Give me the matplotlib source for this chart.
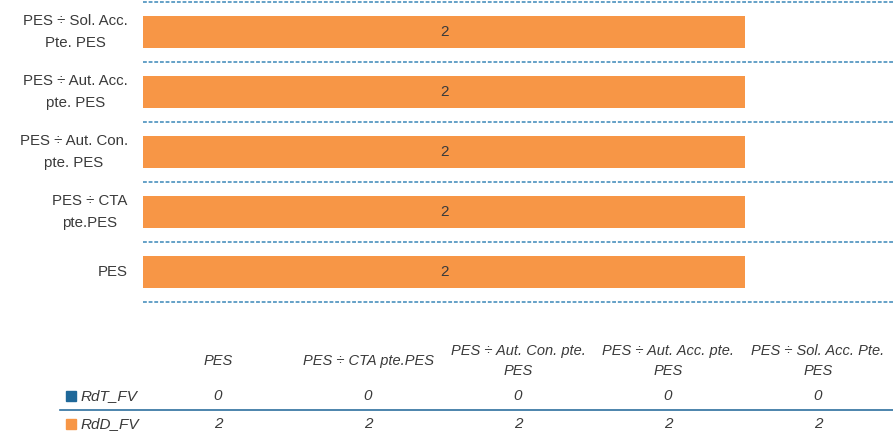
import matplotlib.pyplot as plt

# Data
categories = ["PES", "PES ÷ CTA\npte.PES", "PES ÷ Aut. Con.\npte. PES",
              "PES ÷ Aut. Acc.\npte. PES", "PES ÷ Sol. Acc.\nPte. PES"]
table_headers = ["PES", "PES ÷ CTA pte.PES", "PES ÷ Aut. Con. pte.\nPES",
                 "PES ÷ Aut. Acc. pte.\nPES", "PES ÷ Sol. Acc. Pte.\nPES"]
rdt_fv = [0, 0, 0, 0, 0]
rdd_fv = [2, 2, 2, 2, 2]
series_names = ["RdT_FV", "RdD_FV"]

blue = "#1f6899"
orange = "#f79646"
text_col = "#3a3a3a"

plt.rcParams['font.family'] = ['Liberation Sans', 'DejaVu Sans']

W, H = 893, 433
fig = plt.figure(figsize=(W / 100, H / 100), dpi=100)

left = 143 / W
ax = fig.add_axes([left, 1 - 302 / H, 1 - left, 300 / H])

ypos = range(len(categories))
ax.barh(ypos, rdt_fv, height=0.52, color=blue)
bars = ax.barh(ypos, rdd_fv, left=rdt_fv, height=0.52, color=orange)
for rect, v, l in zip(bars, rdd_fv, rdt_fv):
    ax.text(l + v / 2, rect.get_y() + rect.get_height() / 2, str(v),
            ha='center', va='center', fontsize=11, color=text_col)

ax.set_xlim(0, 2.49)
ax.set_ylim(-0.5, len(categories) - 0.5)
for b in [i - 0.5 for i in range(len(categories) + 1)]:
    ax.axhline(b, color="#3b87b8", linestyle=(0, (2.5, 1.2)), linewidth=1.1,
               clip_on=False)
for s in ax.spines.values():
    s.set_visible(False)
ax.set_xticks([])
ax.set_yticks(list(ypos))
ax.set_yticklabels(categories, fontsize=10.8, color=text_col,
                   multialignment='center', linespacing=1.7, va='center')
ax.tick_params(axis='y', length=0, pad=11)

# Data table below the chart
col_w = (1 - left) / len(table_headers)
for i, h in enumerate(table_headers):
    x = left + col_w * (i + 0.5)
    fig.text(x, 1 - 361 / H, h, ha='center', va='center', fontsize=10.5,
             style='italic', color=text_col, multialignment='center',
             linespacing=1.5)
    fig.text(x, 1 - 396 / H, str(rdt_fv[i]), ha='center', va='center',
             fontsize=11, style='italic', color=text_col)
    fig.text(x, 1 - 424 / H, str(rdd_fv[i]), ha='center', va='center',
             fontsize=11, style='italic', color=text_col)

for name, col, yy in zip(series_names, [blue, orange], [396, 424]):
    fig.patches.append(plt.Rectangle((66 / W, 1 - (yy + 5) / H), 10 / W, 10 / H,
                                     transform=fig.transFigure, color=col))
    fig.text(81 / W, 1 - yy / H, name, ha='left', va='center', fontsize=11,
             style='italic', color=text_col)

fig.add_artist(plt.Line2D([60 / W, 1], [1 - 410 / H, 1 - 410 / H],
                          color="#2e6f9e", linewidth=1.2,
                          transform=fig.transFigure))

fig.savefig("out.png", dpi=100)
